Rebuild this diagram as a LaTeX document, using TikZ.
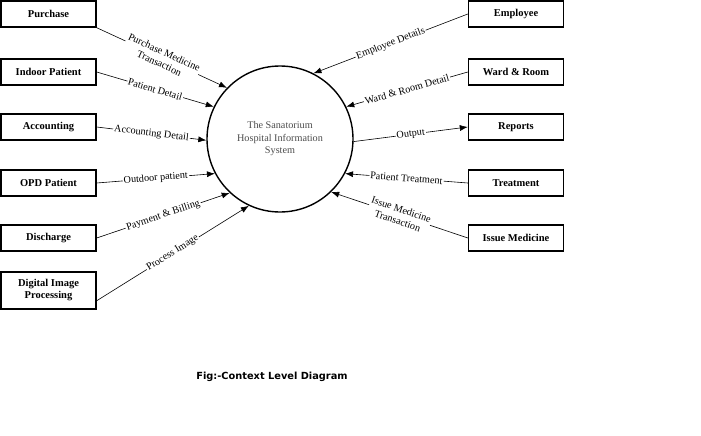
\documentclass[tikz,border=0pt]{standalone}
\usepackage{fontspec}
\setmainfont{Liberation Serif}
\newfontfamily\capfont{DejaVu Sans}
\usetikzlibrary{arrows.meta}
\begin{document}
\begin{tikzpicture}[x=1pt,y=-1pt,
            entity/.style={draw,line width=1.4pt,minimum width=95pt,minimum height=26pt,
              inner sep=1pt,align=center,font=\fontsize{10.5}{12}\selectfont\bfseries},
            process/.style={circle,draw,line width=1.4pt,minimum size=146pt,inner sep=0pt,
              align=center,text=black!70,font=\fontsize{10.2}{12.5}\selectfont},
            flow/.style={-{Latex[length=8pt,width=6pt]},line width=0.6pt},
            lbl/.style={midway,sloped,fill=white,inner sep=1pt,align=center,
              font=\fontsize{10.2}{12}\selectfont}]
\useasboundingbox (0,0) rectangle (701,436);
\node[process] (sys) at (280,139) {The Sanatorium\\Hospital Information\\System};
\node[entity] (purchase) at (48.5,14) {Purchase};
\node[entity] (indoor) at (48.5,72) {Indoor Patient};
\node[entity] (account) at (48.5,127) {Accounting};
\node[entity] (opd) at (48.5,183) {OPD Patient};
\node[entity] (discharge) at (48.5,238) {Discharge};
\node[entity,minimum height=37pt] (dip) at (48.5,290.5) {Digital Image\\Processing};
\node[entity] (employee) at (516,14) {Employee};
\node[entity] (ward) at (516,72) {Ward \& Room};
\node[entity] (reports) at (516,127) {Reports};
\node[entity] (treat) at (516,183) {Treatment};
\node[entity] (issue) at (516,238) {Issue Medicine};
\draw[flow] (purchase.south east) -- node[lbl] {Purchase Medicine\\Transaction} (sys.136);
\draw[flow] (indoor.east) -- node[lbl] {Patient Detail} (sys.154);
\draw[flow] (account.east) -- node[lbl] {Accounting Detail} (sys.181);
\draw[flow] (opd.east) -- node[lbl] {Outdoor patient} (sys.208);
\draw[flow] (discharge.east) -- node[lbl] {Payment \& Billing} (sys.227);
\draw[flow] (dip.-12) -- node[lbl] {Process Image} (sys.245);
\draw[flow] (employee.west) -- node[lbl] {Employee Details} (sys.63);
\draw[flow] (ward.west) -- node[lbl] {Ward \& Room Detail} (sys.26);
\draw[flow] (sys.358) -- node[lbl] {Output} (reports.west);
\draw[flow] (treat.west) -- node[lbl] {Patient Treatment} (sys.332);
\draw[flow] (issue.west) -- node[lbl] {Issue Medicine\\Transaction} (sys.314);
\node[font=\capfont\fontsize{9.8}{11}\selectfont\bfseries] (caption) at (272,377) {Fig:-Context Level Diagram};
\end{tikzpicture}
\end{document}
